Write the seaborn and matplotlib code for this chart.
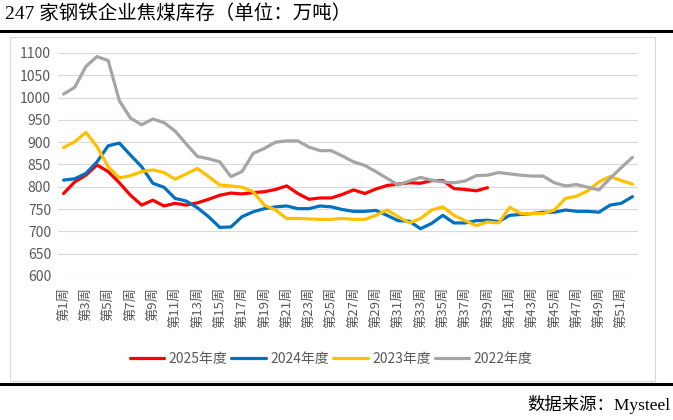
import numpy as np
import pandas as pd
import matplotlib
matplotlib.use('Agg')
import matplotlib.pyplot as plt
import seaborn as sns
from matplotlib.lines import Line2D
from matplotlib.patches import Rectangle

# 247家钢铁企业焦煤库存（万吨），按周
weeks_all = list(range(1, 53))
y2025 = [785, 811, 826, 849, 834, 809, 781, 759, 770, 757, 763, 759, 764, 772, 781, 786,
         784, 787, 789, 794, 802, 785, 772, 775, 775, 783, 793, 785, 795, 803, 806, 809,
         808, 814, 814, 796, 794, 791, 798]
y2024 = [815, 818, 830, 856, 892, 898, 871, 845, 808, 799, 774, 768, 753, 733, 709, 710,
         733, 744, 751, 755, 757, 751, 751, 757, 755, 749, 745, 745, 747, 736, 724, 723,
         706, 718, 736, 719, 719, 724, 725, 722, 736, 738, 740, 743, 743, 748, 745, 745,
         743, 759, 763, 778]
y2023 = [888, 901, 922, 890, 845, 820, 825, 834, 838, 832, 817, 829, 841, 823, 804, 802,
         799, 789, 759, 748, 729, 729, 728, 727, 727, 729, 727, 727, 736, 748, 733, 719,
         729, 748, 755, 736, 724, 713, 721, 719, 754, 740, 740, 740, 748, 774, 779, 791,
         811, 823, 814, 806]
y2022 = [1008, 1023, 1070, 1092, 1083, 993, 954, 939, 952, 944, 925, 896, 868, 863, 856, 823,
         834, 875, 886, 900, 903, 903, 889, 881, 881, 869, 856, 848, 834, 819, 804, 813,
         821, 815, 811, 809, 813, 825, 826, 832, 829, 826, 824, 824, 809, 802, 805, 799,
         793, 819, 843, 866]

series = {'2025年度': y2025, '2024年度': y2024, '2023年度': y2023, '2022年度': y2022}
colors = {'2025年度': '#FF0000', '2024年度': '#0070C0', '2023年度': '#FFC000', '2022年度': '#A5A5A5'}

rows = []
for name, vals in series.items():
    for w, v in zip(weeks_all, vals):
        rows.append({'week': w, 'value': v, 'year': name})
df = pd.DataFrame(rows)

sns.set_style('white')
plt.rcParams['font.family'] = ['Noto Sans CJK SC', 'DejaVu Sans']

fig = plt.figure(figsize=(6.73, 4.2), dpi=100)
ax = fig.add_axes([58 / 673, 144 / 420, 580 / 673, 223 / 420])

# frame and separators
fig.add_artist(Rectangle((10 / 673, 39 / 420), 645 / 673, 344 / 420, transform=fig.transFigure,
                         fill=False, edgecolor='#D9D9D9', lw=0.8, zorder=0))
fig.add_artist(Line2D([0, 1], [1 - 31 / 420] * 2, transform=fig.transFigure, color='black', lw=2.2))
fig.add_artist(Line2D([0, 1], [1 - 384 / 420] * 2, transform=fig.transFigure, color='black', lw=2.2))

sns.lineplot(data=df, x='week', y='value', hue='year', palette=colors,
             hue_order=list(series.keys()), linewidth=2.3, ax=ax, legend=False)

ax.set_xlim(0.5, 52.5)
ax.set_ylim(600, 1100)
ax.set_yticks(range(600, 1101, 50))
ax.set_xticks(weeks_all[::2])
ax.set_xticklabels([f'第{w}周' for w in weeks_all[::2]], rotation=90)
ax.grid(axis='y', color='#D9D9D9', lw=0.8)
ax.grid(axis='x', visible=False)
for s in ax.spines.values():
    s.set_visible(False)
ax.tick_params(axis='y', length=0, pad=5, labelsize=10, labelcolor='#595959')
ax.tick_params(axis='x', length=0, pad=8, labelsize=9.5, labelcolor='#595959')
ax.set_xlabel('')
ax.set_ylabel('')

handles = [Line2D([], [], color=colors[k], lw=2.3) for k in series]
fig.legend(handles, list(series.keys()), loc='center', bbox_to_anchor=(331 / 673, 1 - 359 / 420),
           ncol=4, frameon=False, fontsize=10, handlelength=2.5, handletextpad=0.3,
           columnspacing=0.3, labelcolor='#595959')

fig.text(5 / 673, 1 - 13 / 420, '247 家钢铁企业焦煤库存（单位：万吨）', ha='left', va='center',
         fontsize=14, family=['Liberation Serif', 'Noto Sans CJK SC'], color='black')
fig.text(670 / 673, 1 - 404 / 420, '数据来源：Mysteel', ha='right', va='center',
         fontsize=12.5, family=['Liberation Serif', 'Noto Sans CJK SC'], color='black')

plt.savefig('out.png', dpi=100)
